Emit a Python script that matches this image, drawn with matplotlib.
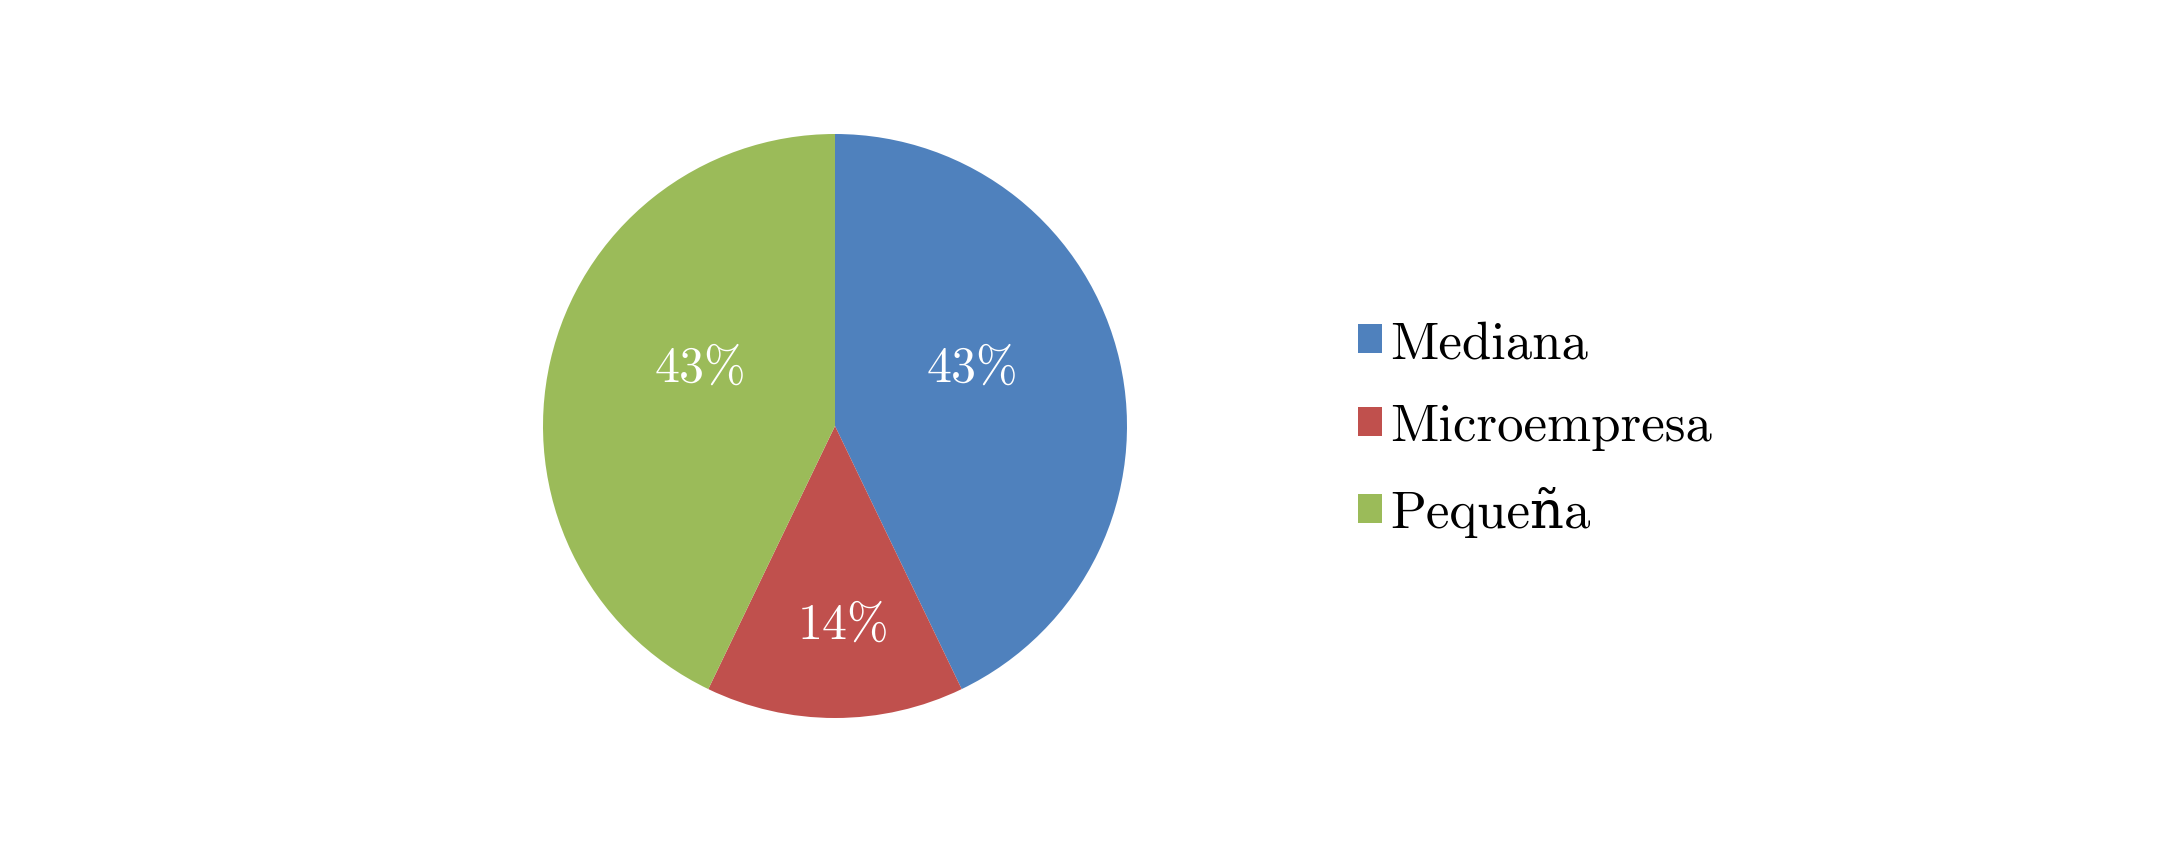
import matplotlib
matplotlib.use('Agg')
import matplotlib.pyplot as plt
from matplotlib.patches import Patch

# data
categories = ['Mediana', 'Microempresa', 'Pequeña']
counts = [3, 1, 3]
colors = ['#4F81BD', '#C0504D', '#9BBB59']

plt.rcParams['font.family'] = ['cmr10', 'DejaVu Serif']
plt.rcParams['axes.formatter.use_mathtext'] = True

W, H = 2179, 853
fig = plt.figure(figsize=(W / 100, H / 100), dpi=100)

# pie axes: center ~ (835, 427) px, radius ~ 292 px
cx, cy, r = 835, 427, 292
ax = fig.add_axes([(cx - r) / W, (H - cy - r) / H, 2 * r / W, 2 * r / H])

wedges, texts, autotexts = ax.pie(counts, colors=colors, startangle=90, counterclock=False,
                                  autopct='%1.0f%%', pctdistance=0.6,
                                  textprops={'color': 'white', 'fontsize': 36})
ax.set_xlim(-1, 1)
ax.set_ylim(-1, 1)
ax.set_aspect('equal')

# label positions roughly as in the original
autotexts[0].set_position((0.47, 0.20))
autotexts[1].set_position((0.03, -0.68))
autotexts[2].set_position((-0.46, 0.20))

handles = [Patch(facecolor=c, edgecolor='none') for c in colors]
fig.legend(handles, categories, loc='center left', bbox_to_anchor=(1310 / W, 1 - 430 / H),
           frameon=False, fontsize=38, handlelength=0.47, handleheight=0.47,
           handletextpad=0.15, labelspacing=0.68)

plt.savefig('out.png', dpi=100)
